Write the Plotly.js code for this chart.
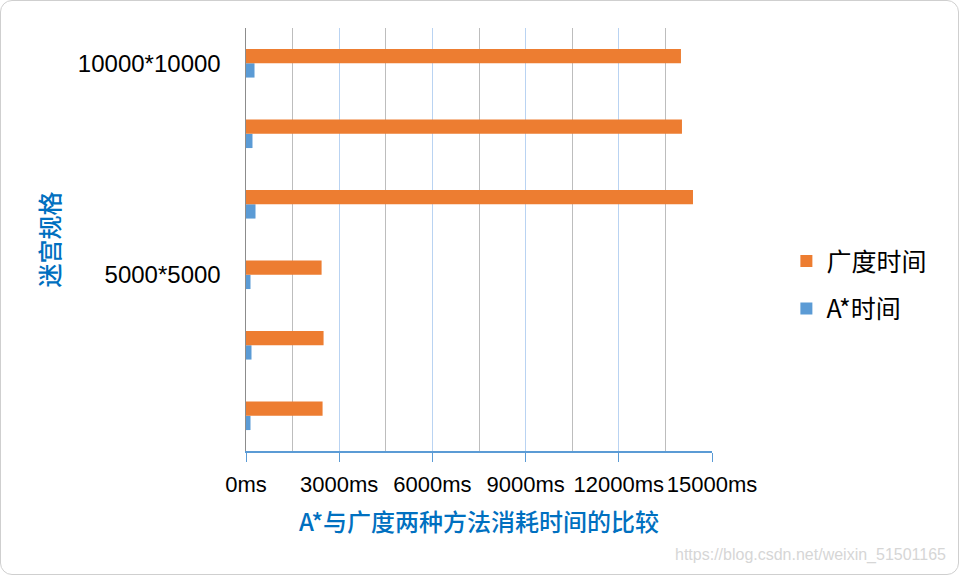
<!DOCTYPE html>
<html>
<head>
<meta charset="utf-8">
<script src="https://cdn.plot.ly/plotly-3.0.1.min.js"></script>
<style>
  body { margin: 0; background: #fff; }
  #wrap { position: relative; width: 959px; height: 575px; }
  #frame { position: absolute; left: 0; top: 0; width: 957px; height: 573px;
           border: 1px solid #cfcfcf; border-radius: 12px; pointer-events: none; }
</style>
</head>
<body>
<div id="wrap">
  <div id="plot"></div>
  <div id="frame"></div>
</div>
<script>
// runs, bottom to top
const runs = ['1', '2', '3', '4', '5', '6'];
const bfsTime = [2465, 2497, 2433, 14388, 14033, 14001];
const astarTime = [145, 177, 145, 306, 209, 274];

const sizeTicks = ['3', '6'];
const sizeLabels = ['5000*5000', '10000*10000'];

const xTicks = [0, 3000, 6000, 9000, 12000, 15000];
const xLabels = ['0ms', '3000ms', '6000ms', '9000ms', '12000ms', '15000ms'];

const cjk = '"Noto Sans CJK SC", sans-serif';
const latin = '"Liberation Sans", Arial, "Noto Sans CJK SC", sans-serif';

const astar = {
    type: 'bar',
    orientation: 'h',
    name: 'A*时间',
    y: runs,
    x: astarTime,
    legendgroup: 'astar',
    legendrank: 2,
    marker: { color: '#5B9BD5' },
    hoverinfo: 'x',
};

const bfs = {
    type: 'bar',
    orientation: 'h',
    name: '广度时间',
    y: runs,
    x: bfsTime,
    legendgroup: 'bfs',
    legendrank: 1,
    marker: { color: '#ED7D31' },
    hoverinfo: 'x',
};

const layout = {
    width: 959,
    height: 575,
    margin: { l: 246, r: 247, t: 28, b: 124 },
    paper_bgcolor: '#fff',
    plot_bgcolor: '#fff',
    barmode: 'group',
    bargap: 0.594,
    bargroupgap: 0,
    font: { family: latin, color: '#000' },
    xaxis: {
        range: [0, 15000],
        tickvals: xTicks,
        ticktext: xLabels,
        tickangle: 0,
        tickfont: { size: 22, family: latin },
        ticks: 'outside',
        ticklen: 9,
        tickcolor: '#5B9BD5',
        ticklabelstandoff: 4,
        showline: true,
        linecolor: '#5B9BD5',
        linewidth: 1.5,
        zeroline: false,
        showgrid: true,
        gridcolor: '#b9d3f2',
        gridwidth: 1,
        minor: { dtick: 1500, ticks: '', showgrid: true, gridcolor: '#bdbdbd', gridwidth: 1 },
        title: {
            text: 'A*与广度两种方法消耗时间的比较',
            font: { family: cjk, size: 24, color: '#0070C0', weight: 500 },
            standoff: 18,
        },
        fixedrange: true,
    },
    yaxis: {
        type: 'category',
        categoryorder: 'array',
        categoryarray: runs,
        tickvals: sizeTicks,
        ticktext: sizeLabels,
        tickfont: { size: 24, family: latin },
        ticks: '',
        ticklabelstandoff: 19,
        showline: true,
        linecolor: '#8c8c8c',
        linewidth: 1.5,
        showgrid: false,
        zeroline: false,
        title: {
            text: '迷宫规格',
            font: { family: cjk, size: 24, color: '#0070C0', weight: 500 },
            standoff: 11,
        },
        fixedrange: true,
    },
    legend: {
        xref: 'container',
        yref: 'container',
        x: 0.82,
        y: 0.505,
        xanchor: 'left',
        yanchor: 'middle',
        traceorder: 'grouped',
        tracegroupgap: 12,
        font: { family: cjk, size: 25, color: '#000' },
        bgcolor: 'rgba(0,0,0,0)',
    },
    annotations: [{
        xref: 'paper',
        yref: 'paper',
        x: 1.507,
        y: -0.246,
        xanchor: 'right',
        yanchor: 'middle',
        showarrow: false,
        text: 'https://blog.csdn.net/weixin_51501165',
        font: { family: latin, size: 16, color: '#d6d6d6' },
    }],
};

const config = {
    displayModeBar: false,
    staticPlot: true,
};

Plotly.newPlot('plot', [astar, bfs], layout, config);
</script>
</body>
</html>
